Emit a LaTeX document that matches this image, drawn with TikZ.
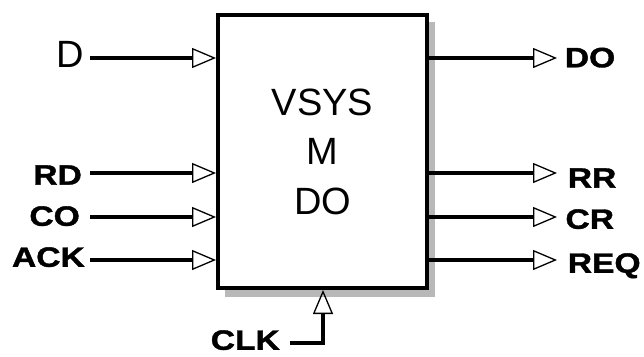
\documentclass[tikz,border=0pt]{standalone}
\usepackage{fontspec}
\setmainfont{Liberation Sans}
\newfontfamily\heavyfont{Liberation Sans}[UprightFont=*-Bold, UprightFeatures={FakeBold=1.3}]
\usepackage{graphicx}
\usetikzlibrary{arrows.meta}
\definecolor{shadegray}{gray}{0.72}
\newcommand\lblw[1]{\scalebox{1.2}[1]{#1}}
\begin{document}
\begin{tikzpicture}[x=1pt,y=-1pt,
  wire/.style={line width=3.2pt},
  pintip/.style={-{Triangle[open,length=24pt,width=20pt,line width=1.3pt]}},
  lab/.style={inner ysep=0pt, text depth=0pt, font=\fontsize{28}{28}\heavyfont},
  bigl/.style={inner ysep=0pt, text depth=0pt, font=\fontsize{38}{38}\selectfont}
  ]
\useasboundingbox (0,0) rectangle (644,356);
% shadow and box
\fill[shadegray] (225,22) rectangle (435,297);
\node[draw, line width=4pt, fill=white, minimum width=209pt, minimum height=273pt,
      inner sep=0pt, align=center, font=\fontsize{38}{49.5}\selectfont] (box) at (322.5,151.5) {VSYS\\M\\DO};
% input labels
\node[bigl, anchor=east, inner xsep=6pt] (D) at (90,54) {D};
\node[lab, anchor=east, inner xsep=8pt] (RD) at (90,175) {\lblw{RD}};
\node[lab, anchor=east, inner xsep=10pt] (CO) at (90,216) {\lblw{CO}};
\node[lab, anchor=east, inner xsep=5pt] (ACK) at (90,257) {\lblw{ACK}};
% input pins
\coordinate (pD) at (216,58);
\coordinate (pRD) at (216,173);
\coordinate (pCO) at (216,217);
\coordinate (pACK) at (216,260);
\draw[wire,pintip] (D.east |- pD) -- (pD);
\draw[wire,pintip] (RD.east |- pRD) -- (pRD);
\draw[wire,pintip] (CO.east |- pCO) -- (pCO);
\draw[wire,pintip] (ACK.east |- pACK) -- (pACK);
% output pins
\coordinate (oDO) at (557,58);
\coordinate (oRR) at (557,173);
\coordinate (oCR) at (557,217);
\coordinate (oREQ) at (557,260);
\draw[wire,pintip] (box.east |- oDO) -- (oDO);
\draw[wire,pintip] (box.east |- oRR) -- (oRR);
\draw[wire,pintip] (box.east |- oCR) -- (oCR);
\draw[wire,pintip] (box.east |- oREQ) -- (oREQ);
% output labels
\node[lab, anchor=west, inner xsep=7.6pt] (DO) at (oDO |- 0,57.5) {\lblw{DO}};
\node[lab, anchor=west, inner xsep=10.6pt] (RR) at (oRR |- 0,178) {\lblw{RR}};
\node[lab, anchor=west, inner xsep=8.3pt] (CR) at (oCR |- 0,219) {\lblw{CR}};
\node[lab, anchor=west, inner xsep=10.6pt] (REQ) at (oREQ |- 0,263) {\lblw{REQ}};
% clock
\node[lab, anchor=east, inner xsep=10pt] (CLK) at (290,340) {\lblw{CLK}};
\coordinate (cCLK) at (290,343);
\coordinate (pCLK) at (323,290);
\draw[wire,pintip] (CLK.east |- cCLK) -| (pCLK);
\end{tikzpicture}
\end{document}
